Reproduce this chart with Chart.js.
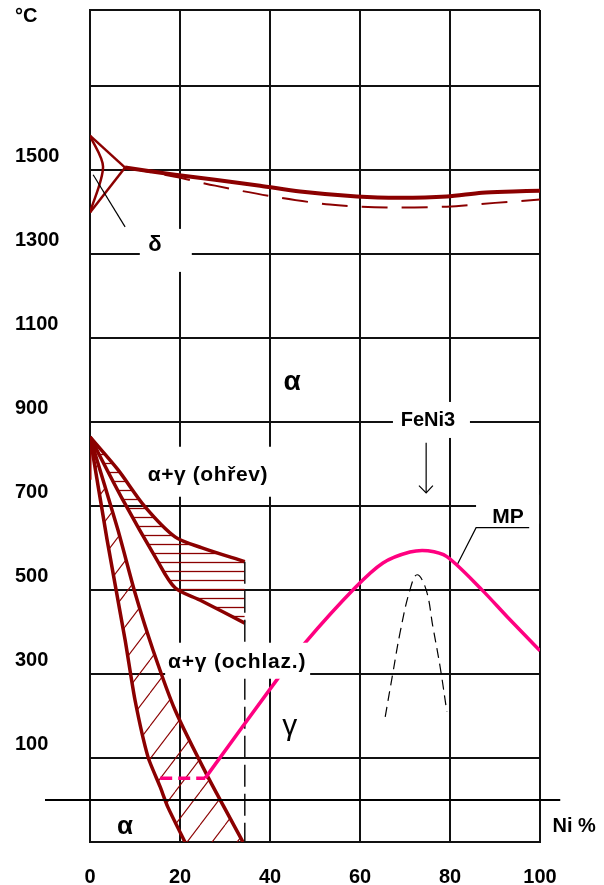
<!DOCTYPE html>
<html>
<head>
<meta charset="utf-8">
<script src="https://cdn.jsdelivr.net/npm/chart.js@4.4.1/dist/chart.umd.min.js"></script>
<style>
  body { margin: 0; background: #fff; }
</style>
</head>
<body>
<canvas id="diagram" width="604" height="885"></canvas>
<script>
// -------------------
// Fe-Ni diagram data (Ni %, °C)
// -------------------
const niTicks = [0, 20, 40, 60, 80, 100];
const gridTemps = [-100, 100, 300, 500, 700, 900, 1100, 1300, 1500, 1700, 1880];
const tempLabels = [1500, 1300, 1100, 900, 700, 500, 300, 100];

// liquidus (solid) and solidus (dashed)
const liqX = [7.8, 18.9, 27.8, 37.8, 46.7, 59.3, 68.9, 79.3, 87.1, 94, 100];
const liqT = [1505, 1488, 1476, 1462, 1448, 1436, 1433, 1436, 1445, 1448, 1450];
const solX = [7.8, 18.9, 27.8, 39.6, 53.3, 66, 79.3, 90, 100];
const solT = [1505, 1483, 1462, 1438, 1417, 1410, 1412, 1421, 1429];

// delta region
const deltaTopX = [0, 7.8], deltaTopT = [1581, 1505];
const deltaBotX = [0, 7.8], deltaBotT = [1398, 1505];
const deltaInX = [0, 2.9, 0], deltaInT = [1581, 1507, 1398];

// alpha+gamma on heating
const heatUpX = [0, 6.2, 12.2, 18.9, 24.9, 34.4];
const heatUpT = [864, 786, 698, 626, 600, 567];
const heatLoX = [0, 7.3, 14.9, 18.9, 24.4, 34.4];
const heatLoT = [864, 714, 571, 505, 476, 421];

// alpha+gamma on cooling
const coolRX = [0, 6.2, 10, 14, 18.9, 26.2, 34];
const coolRT = [864, 643, 493, 357, 214, 55, -100];
const coolLX = [0, 3.8, 7.8, 10, 12.9, 15.6, 17.3, 21.1];
const coolLT = [864, 619, 381, 238, 102, 31, -17, -100];
const edgeX = [0, 0], edgeT = [864, 762];
const limitX = [34.4, 34.4], limitT = [567, -100];

// magnetic transformation (MP)
const mpDashX = [15.6, 25.6], mpDashT = [52, 52];
const mpX = [25.6, 41.8, 47.8, 58.9, 65.1, 71.1, 75.1, 79.3, 87.1, 92.7, 100];
const mpT = [52, 290, 374, 505, 564, 590, 593, 579, 500, 436, 355];

// FeNi3 ordering
const ordX = [65.6, 67.3, 68.9, 71.1, 72.7, 74.7, 76.2, 77.8, 79.3];
const ordT = [198, 302, 398, 500, 536, 500, 412, 317, 210];

// leaders, arrow, zero line
const zeroX = [-10, 104.5], zeroT = [0, 0];
const deltaLeadX = [0.7, 7.8], deltaLeadT = [1488, 1364];
const arrowX = [74.7, 74.7], arrowT = [850, 731];
const headX = [73.1, 74.7, 76.2], headT = [748, 731, 748];
const mpLeadX = [97.6, 85.8, 81.6], mpLeadT = [648, 648, 560];

const RED = '#8b0000';
const PINK = '#ff0080';
const FONT = "'Liberation Sans', Arial, sans-serif";

function pts(xs, ts) { return xs.map((v, i) => ({x: v, y: ts[i]})); }

function hatch(w, h, draw) {
  const c = document.createElement('canvas');
  c.width = w; c.height = h;
  const g = c.getContext('2d');
  g.strokeStyle = RED;
  g.lineWidth = 1.3;
  draw(g, w, h);
  return g.createPattern(c, 'repeat');
}
const hLines = hatch(10, 9, (g, w, h) => {
  g.beginPath(); g.moveTo(0, 4.5); g.lineTo(w, 4.5); g.stroke();
});
const dLines = hatch(25, 33, (g, w, h) => {
  g.lineWidth = 1.1;
  for (let k = -1; k <= 1; k++) {
    g.beginPath(); g.moveTo(k * w, h); g.lineTo(k * w + w, 0); g.stroke();
  }
});

// text labels with white boxes: box = [left, right, top, bottom] in px around the anchor
const notes = [
  {text: '°C', x: -14.2, y: 1864, font: 'bold 20px ' + FONT},
  {text: 'Ni %', x: 107.6, y: -64, font: 'bold 20px ' + FONT},
  {text: 'δ', x: 14.4, y: 1321, font: 'bold 22px ' + FONT, box: [-15, 37, -16, 27]},
  {text: 'α', x: 44.9, y: 993, font: 'bold 28px ' + FONT},
  {text: 'FeNi3', x: 75.1, y: 902, font: 'bold 20px ' + FONT, box: [-35, 42, -19, 17]},
  {text: 'α+γ (ohřev)', x: 26.2, y: 774, font: 'bold 21px ' + FONT, box: [-66, 64, -28, 22], spacing: '0.6px'},
  {text: 'α+γ (ochlaz.)', x: 32.7, y: 329, font: 'bold 21px ' + FONT, box: [-72, 73, -19, 17], spacing: '0.8px'},
  {text: 'MP', x: 92.9, y: 674, font: 'bold 21px ' + FONT, box: [-32, 31, -22, 7]},
  {text: 'γ', x: 44.4, y: 174, font: '30px ' + FONT},
  {text: 'α', x: 7.8, y: -64, font: 'bold 26px ' + FONT}
];

const notePlugin = {
  id: 'notes',
  afterDatasetsDraw(chart) {
    const {ctx, scales: {x, y}} = chart;
    ctx.save();
    notes.forEach(n => {
      const px = x.getPixelForValue(n.x);
      const py = y.getPixelForValue(n.y);
      if (n.box) {
        ctx.fillStyle = '#fff';
        ctx.fillRect(px + n.box[0], py + n.box[2], n.box[1] - n.box[0], n.box[3] - n.box[2]);
      }
      ctx.font = n.font;
      ctx.letterSpacing = n.spacing || '0px';
      ctx.fillStyle = '#000';
      ctx.textAlign = 'center';
      ctx.textBaseline = 'middle';
      ctx.fillText(n.text, px, py);
    });
    ctx.restore();
  }
};

function line(data, color, width, extra) {
  return Object.assign({
    data: data, borderColor: color, borderWidth: width,
    pointRadius: 0, fill: false, tension: 0
  }, extra || {});
}

const datasets = [
  line(pts(mpX, mpT), PINK, 3.5, {tension: 0.3}),
  line(pts(mpDashX, mpDashT), PINK, 3.5, {borderDash: [12, 6]}),
  line(pts(ordX, ordT), '#000', 1.2, {borderDash: [10, 6], tension: 0.4}),
  line(pts(arrowX, arrowT), '#000', 1.2),
  line(pts(headX, headT), '#000', 1.2),
  line(pts(mpLeadX, mpLeadT), '#000', 1.2),
  line(pts(deltaLeadX, deltaLeadT), '#000', 1.2),
  line(pts(zeroX, zeroT), '#000', 2, {clip: false}),
  line(pts(limitX, limitT), '#111', 1.5, {borderDash: [22, 7]}),
  line(pts(liqX, liqT), RED, 4, {tension: 0.3}),
  line(pts(solX, solT), RED, 2, {borderDash: [26, 14], tension: 0.3}),
  line(pts(deltaTopX, deltaTopT), RED, 2.5),
  line(pts(deltaBotX, deltaBotT), RED, 2.5),
  line(pts(deltaInX, deltaInT), RED, 2.5, {tension: 0.3}),
  line(pts(edgeX, edgeT), RED, 3),
  line(pts(heatUpX, heatUpT), RED, 3.5, {tension: 0.3, fill: {target: 16}, backgroundColor: hLines}),
  line(pts(heatLoX, heatLoT), RED, 3.5, {tension: 0.3}),
  line(pts(coolRX, coolRT), RED, 3.5, {tension: 0.2, fill: {target: 19}, backgroundColor: dLines}),
  line(pts(coolLX, coolLT), RED, 3.5, {tension: 0.2}),
  line(pts(coolLX.concat([34]), coolLT.concat([-100])), 'rgba(0,0,0,0)', 0, {tension: 0.2})
];

const labelFont = {family: FONT, size: 20, weight: 'bold'};

function noPad(s) { s.paddingTop = 0; s.paddingBottom = 0; }

function labelAxis(value, offset, weight) {
  return {
    type: 'linear', position: 'left', min: -100, max: 1880, weight: weight,
    grid: {display: false}, border: {display: false},
    afterBuildTicks: s => { s.ticks = [{value: value}]; },
    afterFit: s => { s.width = 0; noPad(s); },
    ticks: {
      autoSkip: false, crossAlign: 'far', labelOffset: offset,
      color: '#000', font: labelFont, callback: v => String(v)
    }
  };
}

new Chart(document.getElementById('diagram'), {
  type: 'line',
  data: {datasets: datasets},
  options: {
    responsive: false,
    animation: false,
    devicePixelRatio: 1,
    layout: {padding: {left: 15, right: 64, top: 10, bottom: 0}},
    plugins: {
      legend: {display: false},
      tooltip: {enabled: false},
      filler: {drawTime: 'beforeDatasetsDraw'}
    },
    scales: {
      x: {
        type: 'linear', min: 0, max: 100,
        afterBuildTicks: s => { s.ticks = niTicks.map(v => ({value: v})); },
        afterFit: s => { s.height = 43; },
        grid: {color: '#111', lineWidth: 2, drawTicks: false},
        border: {display: true, color: '#111', width: 2},
        ticks: {color: '#000', font: labelFont, padding: 23, maxRotation: 0}
      },
      y: {
        type: 'linear', position: 'left', min: -100, max: 1880, weight: 0,
        afterBuildTicks: s => { s.ticks = gridTemps.map(v => ({value: v})); },
        afterFit: s => { s.width = 75; noPad(s); },
        grid: {color: '#111', lineWidth: 2, drawTicks: false},
        border: {display: true, color: '#111', width: 2},
        ticks: {
          autoSkip: false, crossAlign: 'far', labelOffset: -13,
          color: '#000', font: labelFont,
          callback: v => tempLabels.includes(v) ? String(v) : ''
        }
      },
      yZero: labelAxis(0, 3, 1),
      yLow: labelAxis(-100, 17, 2)
    }
  },
  plugins: [notePlugin]
});
</script>
</body>
</html>
